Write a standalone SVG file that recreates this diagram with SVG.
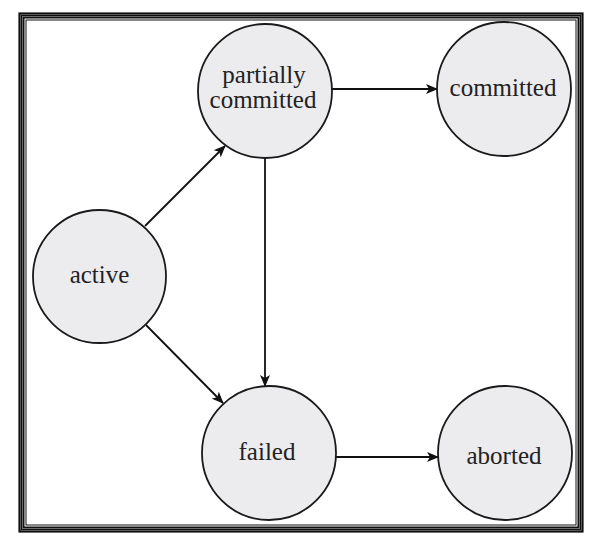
<svg xmlns="http://www.w3.org/2000/svg" width="599" height="543" viewBox="0 0 599 543">
<style>
.frame{fill:none;stroke:#111}
.node circle{fill:#ecebee;stroke:#1a1a1a;stroke-width:1.8}
.node text{font-family:"Liberation Serif","Times New Roman",serif;font-size:25px;fill:#222;text-anchor:middle}
.edge{stroke:#111;stroke-width:1.8;fill:none;marker-end:url(#arr)}
</style>
<defs>
<marker id="arr" viewBox="0 0 12 10" refX="11" refY="5" markerWidth="12" markerHeight="10" markerUnits="userSpaceOnUse" orient="auto">
<path d="M0,0 L12,5 L0,10 L3,5 Z" fill="#111"/>
</marker>
</defs>
<rect width="599" height="543" fill="#fff"/>
<g id="frame">
<rect class="frame" x="19.5" y="13.5" width="563" height="518" stroke-width="2.2"/>
<rect class="frame" x="21.5" y="15.5" width="559" height="514" stroke="#999" stroke-width="1.5"/>
<rect class="frame" x="23.5" y="17.5" width="555" height="510" stroke-width="2"/>
<rect class="frame" x="26" y="20" width="550" height="505" stroke-width="1"/>
</g>
<g id="connectors">
<line class="edge" x1="145" y1="226" x2="225" y2="146"/>
<line class="edge" x1="146" y1="325" x2="223" y2="403"/>
<line class="edge" x1="265" y1="158" x2="265" y2="386"/>
<line class="edge" x1="332" y1="89" x2="437" y2="89"/>
<line class="edge" x1="336" y1="457" x2="438" y2="457"/>
</g>
<g id="active" class="node">
<circle cx="99.5" cy="276.5" r="66.5"/>
<text x="99.5" y="283">active</text>
</g>
<g id="partially-committed" class="node">
<circle cx="265" cy="91" r="67"/>
<text x="264" y="83">partially</text>
<text x="263" y="108">committed</text>
</g>
<g id="committed" class="node">
<circle cx="504" cy="89" r="67"/>
<text x="503" y="96">committed</text>
</g>
<g id="failed" class="node">
<circle cx="269" cy="453" r="67"/>
<text x="267" y="460">failed</text>
</g>
<g id="aborted" class="node">
<circle cx="505" cy="453" r="67"/>
<text x="504" y="464">aborted</text>
</g>
</svg>
